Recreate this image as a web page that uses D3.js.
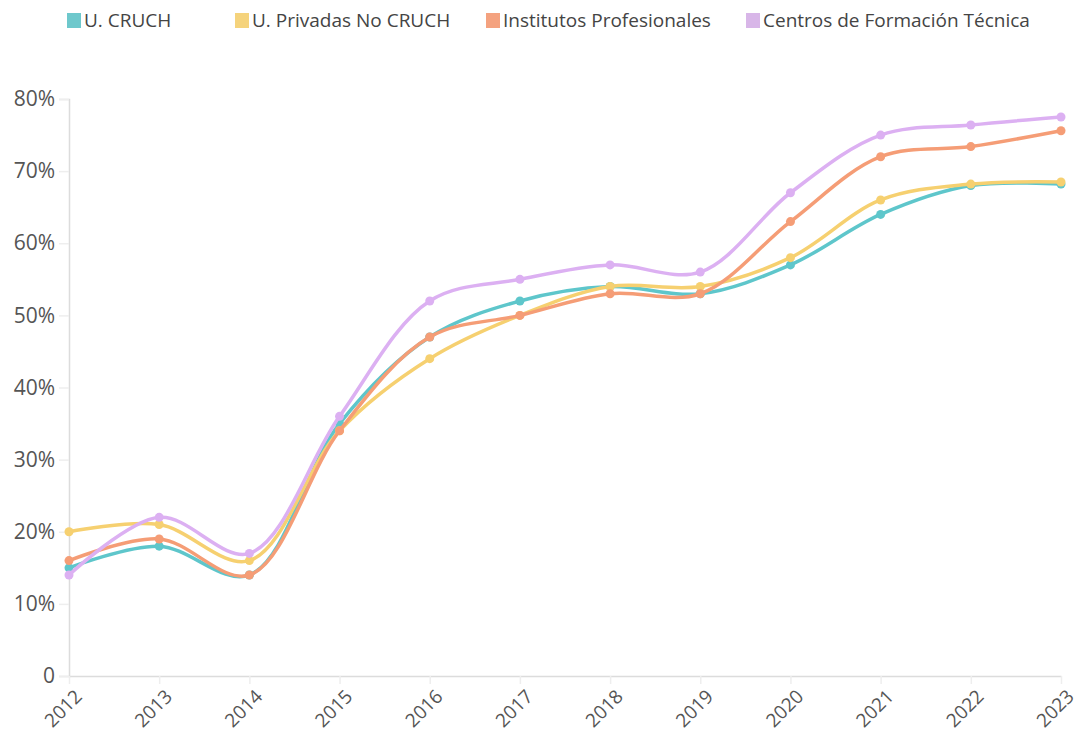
<!DOCTYPE html>
<html>
<head>
<meta charset="utf-8">
<script src="https://cdn.jsdelivr.net/npm/d3@7"></script>
<style>
  body { margin: 0; background: #fff; }
  text { font-family: "Open Sans", sans-serif; }
</style>
</head>
<body>
<svg id="chart" width="1083" height="736"></svg>
<script>
var years = ["2012","2013","2014","2015","2016","2017","2018","2019","2020","2021","2022","2023"];
var seriesNames = ["U. CRUCH", "U. Privadas No CRUCH", "Institutos Profesionales", "Centros de Formación Técnica"];
var cruch    = [15, 18, 14, 35, 47, 52, 54, 53, 57, 64, 68, 68.2];
var privadas = [20, 21, 16, 34, 44, 50, 54, 54, 58, 66, 68.2, 68.5];
var ip       = [16, 19, 14, 34, 47, 50, 53, 53, 63, 72, 73.4, 75.6];
var cft      = [14, 22, 17, 36, 52, 55, 57, 56, 67, 75, 76.4, 77.5];
var yTicks = [0, 10, 20, 30, 40, 50, 60, 70, 80];

var lineColors = ["#5ec6cb", "#f6d070", "#f59d76", "#dcb0f2"];
var legendColors = ["#6ec8cc", "#f5d37c", "#f4a27f", "#d8b6e8"];

var svg = d3.select("#chart"),
    width = +svg.attr("width"),
    height = +svg.attr("height");

var margin = {left: 69, right: 22, top: 99, bottom: 60};

var x = d3.scalePoint().domain(years).range([margin.left, width - margin.right]);
var y = d3.scaleLinear().domain([0, 80]).range([height - margin.bottom, margin.top]);

// y axis
var yAxis = svg.append("g")
    .attr("transform", "translate(" + margin.left + ",0)")
    .call(d3.axisLeft(y).tickValues(yTicks).tickSize(10).tickPadding(4)
      .tickFormat(function(d){ return d === 0 ? "0" : d + "%"; }));
yAxis.select(".domain").attr("stroke", "#dcdcdc").attr("stroke-width", 1.5);
yAxis.selectAll(".tick line").attr("stroke", "#eeeeee").attr("stroke-width", 1.5);
yAxis.selectAll(".tick text").attr("fill", "#555").attr("font-size", 21);

// x axis
var xAxis = svg.append("g")
    .attr("transform", "translate(0," + (height - margin.bottom) + ")")
    .call(d3.axisBottom(x).tickSize(8).tickSizeOuter(0));
xAxis.select(".domain").attr("stroke", "#dcdcdc").attr("stroke-width", 1.5);
xAxis.selectAll(".tick line").attr("stroke", "#eeeeee").attr("stroke-width", 1.5);
xAxis.selectAll(".tick text")
    .attr("fill", "#555")
    .attr("font-size", 19)
    .attr("text-anchor", "end")
    .attr("y", 0)
    .attr("dy", "0.35em")
    .attr("transform", "translate(9,17) rotate(-45)");

// lines
var allSeries = [cruch, privadas, ip, cft];
var line = d3.line()
    .x(function(d, i){ return x(years[i]); })
    .y(function(d){ return y(d); })
    .curve(d3.curveCatmullRom.alpha(0.5));

allSeries.forEach(function(vals, k){
  svg.append("path")
    .datum(vals)
    .attr("fill", "none")
    .attr("stroke", lineColors[k])
    .attr("stroke-width", 3.5)
    .attr("d", line);
  svg.append("g").selectAll("circle")
    .data(vals)
    .enter().append("circle")
    .attr("cx", function(d, i){ return x(years[i]); })
    .attr("cy", function(d){ return y(d); })
    .attr("r", 4.5)
    .attr("fill", lineColors[k]);
});

// legend
var legendX = [67, 235, 486, 746];
var legend = svg.append("g");
seriesNames.forEach(function(name, k){
  legend.append("rect")
    .attr("x", legendX[k]).attr("y", 13)
    .attr("width", 14).attr("height", 15)
    .attr("fill", legendColors[k]);
  legend.append("text")
    .attr("x", legendX[k] + 17).attr("y", 27)
    .attr("font-size", 19)
    .attr("fill", "#444")
    .text(name);
});
</script>
</body>
</html>
